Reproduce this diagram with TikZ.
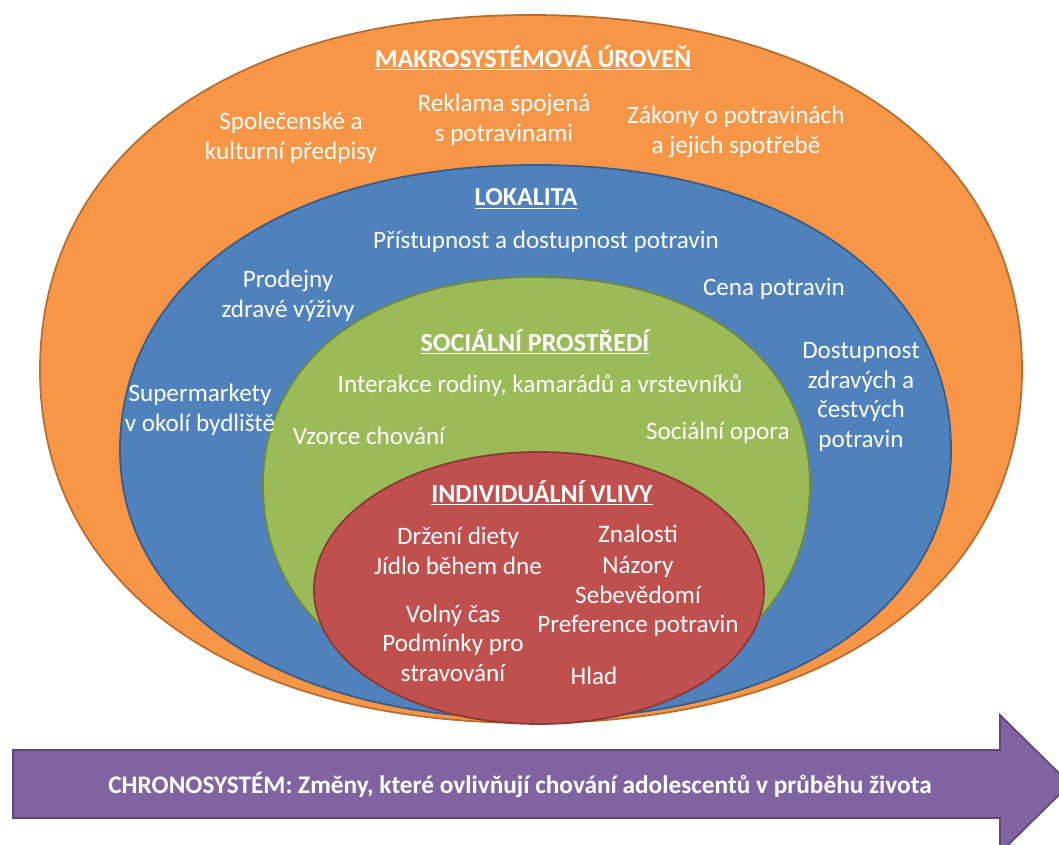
\documentclass[tikz,border=0pt]{standalone}
\usepackage{fontspec}
\setmainfont{Carlito}

\definecolor{oranzova}{HTML}{F79646}
\definecolor{oranzovaokraj}{HTML}{B66D31}
\definecolor{modra}{HTML}{4F81BD}
\definecolor{modraokraj}{HTML}{385D8A}
\definecolor{zelena}{HTML}{9BBB59}
\definecolor{zelenaokraj}{HTML}{71893F}
\definecolor{cervena}{HTML}{C0504D}
\definecolor{cervenaokraj}{HTML}{8C3836}
\definecolor{fialova}{HTML}{8064A2}
\definecolor{fialovaokraj}{HTML}{5C4776}

% vrstva: #1 styl, #2 cx, #3 cy, #4 rx, #5 ry nahore, #6 ry dole, #7 plnost
\newcommand{\vrstva}[7]{%
  \draw[#1] ({#2-#4},#3)
    .. controls ({#2-#4},{#3-#7*#5}) and ({#2-#7*#4},{#3-#5}) .. (#2,{#3-#5})
    .. controls ({#2+#7*#4},{#3-#5}) and ({#2+#4},{#3-#7*#5}) .. ({#2+#4},#3)
    .. controls ({#2+#4},{#3+#7*#6}) and ({#2+#7*#4},{#3+#6}) .. (#2,{#3+#6})
    .. controls ({#2-#7*#4},{#3+#6}) and ({#2-#4},{#3+#7*#6}) .. cycle;}

\begin{document}
\begin{tikzpicture}[x=0.02cm,y=-0.02cm,
    okraj/.style={line width=1pt},
    popis/.style={text=white, align=center, inner sep=0pt,
      font=\fontsize{14.3}{16.8}\selectfont},
    nadpis/.style={popis, font=\fontsize{14.8}{16.8}\selectfont\bfseries}]
    % Okraje obrazku
    \clip (0,0) rectangle (1059,845);

    % Soustredne vrstvy
    \vrstva{okraj, fill=oranzova, draw=oranzovaokraj}{531}{370}{491}{355}{353}{0.61}
    \vrstva{okraj, fill=modra, draw=modraokraj}{535.5}{450}{415.5}{285}{269}{0.6}
    \vrstva{okraj, fill=zelena, draw=zelenaokraj}{536.5}{485}{273.5}{208}{215}{0.6}
    \vrstva{okraj, fill=cervena, draw=cervenaokraj}{539}{590}{225}{138}{134}{0.56}

    % Makrosystemova uroven
    \node[nadpis] (makronadpis) at (533,58) {\underline{MAKROSYSTÉMOVÁ ÚROVEŇ}};
    \node[popis] (predpisy) at (291,138) {Společenské a\\kulturní předpisy};
    \node[popis] (reklama) at (504,120) {Reklama spojená\\s potravinami};
    \node[popis] (zakony) at (736,132) {Zákony o potravinách\\a jejich spotřebě};

    % Lokalita
    \node[nadpis] (lokalitanadpis) at (526,199) {\underline{LOKALITA}};
    \node[popis] (pristupnost) at (546,242) {Přístupnost a dostupnost potravin};
    \node[popis] (prodejny) at (288,296) {Prodejny\\zdravé výživy};
    \node[popis] (cena) at (774,289) {Cena potravin};
    \node[popis] (supermarkety) at (200,410) {Supermarkety\\v okolí bydliště};
    \node[popis] (dostupnost) at (861,397) {Dostupnost\\zdravých a\\čestvých\\potravin};

    % Socialni prostredi
    \node[nadpis] (socialninadpis) at (535,342) {\underline{SOCIÁLNÍ PROSTŘEDÍ}};
    \node[popis] (interakce) at (540,386) {Interakce rodiny, kamarádů a vrstevníků};
    \node[popis] (vzorce) at (369,436) {Vzorce chování};
    \node[popis] (opora) at (718,433) {Sociální opora};

    % Individualni vlivy
    \node[nadpis] (individualninadpis) at (542,493) {\underline{INDIVIDUÁLNÍ VLIVY}};
    \node[popis] (dieta) at (458,551) {Držení diety\\Jídlo během dne};
    \node[popis] (znalosti) at (638,581) {Znalosti\\[1.1pt]Názory\\Sebevědomí\\Preference potravin};
    \node[popis] (volno) at (453,643) {Volný čas\\Podmínky pro\\stravování};
    \node[popis] (hlad) at (594,676) {Hlad};

    % Chronosystem
    \draw[okraj, fill=fialova, draw=fialovaokraj]
      (13,750) -- (1000,750) -- (1000,715) -- (1070,784)
      -- (1000,853) -- (1000,818) -- (13,818) -- cycle;
    \node[nadpis, font=\fontsize{14.4}{16.8}\selectfont\bfseries] (chrono) at (520,785)
      {CHRONOSYSTÉM: Změny, které ovlivňují chování adolescentů v průběhu života};
\end{tikzpicture}
\end{document}
